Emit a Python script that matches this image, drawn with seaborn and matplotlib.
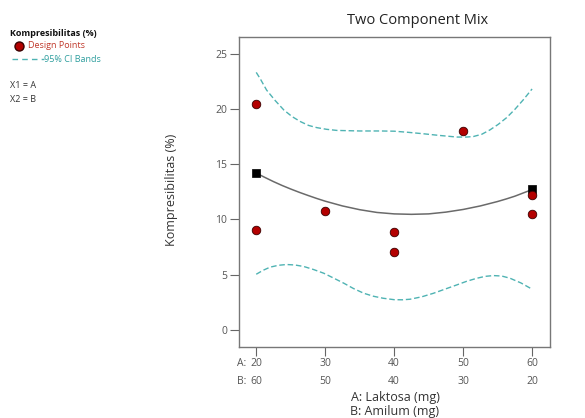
import matplotlib
matplotlib.use("Agg")
import matplotlib.pyplot as plt
import matplotlib.transforms as mtransforms
from matplotlib.lines import Line2D
import seaborn as sns
import pandas as pd

# ---- data ----
design_A = [20, 20, 30, 40, 40, 50, 60, 60]
design_y = [20.45, 9.06, 10.72, 8.88, 7.04, 18.02, 12.23, 10.5]

vertex_A = [20, 60]
vertex_y = [14.19, 12.74]

fit_A = [20, 21.25, 22.5, 23.75, 25, 26.25, 27.5, 28.75, 30, 32.5, 35, 37.5, 40, 42.5, 45,
         47.5, 50, 52.5, 55, 56.25, 57.5, 58.75, 60]
fit_y = [14.19, 13.8, 13.42, 13.07, 12.75, 12.45, 12.17, 11.9, 11.65, 11.22, 10.88, 10.63,
         10.5, 10.46, 10.5, 10.66, 10.9, 11.22, 11.62, 11.85, 12.1, 12.4, 12.7]

upper_A = [20, 20.6, 21.5, 22.75, 24, 25.2, 26.4, 27.6, 28.8, 30.2, 31.7, 35, 38, 40, 42,
           44.2, 46.5, 49.1, 50.5, 51.5, 52.7, 53.9, 55.1, 56.3, 57.5, 58.7, 60]
upper_y = [23.3, 22.7, 21.7, 20.75, 19.9, 19.3, 18.85, 18.5, 18.3, 18.15, 18.05, 18.0, 18.0,
           17.98, 17.88, 17.75, 17.6, 17.45, 17.45, 17.5, 17.7, 18.1, 18.6, 19.2, 19.95,
           20.8, 21.8]

lower_A = [20, 21, 22, 23.2, 24.4, 25.6, 26.9, 28.3, 29.8, 31.2, 32.7, 34.1, 35.6, 37, 38.4,
           40, 41.2, 42.3, 44, 45.7, 47.4, 49.1, 50.5, 52, 53.2, 54.4, 55.6, 56.8, 58.4, 60]
lower_y = [5.04, 5.4, 5.68, 5.85, 5.92, 5.88, 5.74, 5.47, 5.13, 4.7, 4.23, 3.75, 3.32, 3.05,
           2.87, 2.74, 2.73, 2.78, 3.0, 3.32, 3.7, 4.08, 4.4, 4.68, 4.85, 4.92, 4.88, 4.68,
           4.25, 3.69]

tick_A = [20, 30, 40, 50, 60]
tick_B = [60, 50, 40, 30, 20]
y_ticks = [0, 5, 10, 15, 20, 25]

# ---- style ----
sns.set_style("white")
plt.rcParams["font.family"] = ["Open Sans", "DejaVu Sans"]

fig = plt.figure(figsize=(5.85, 4.18), dpi=100)
ax = fig.add_axes([239 / 585, 1 - 347 / 418, (550 - 239) / 585, (347 - 37) / 418])

teal = "#4fb3b3"
dred = "#b30000"
gray = "#555555"

upper_df = pd.DataFrame({"A": upper_A, "y": upper_y})
lower_df = pd.DataFrame({"A": lower_A, "y": lower_y})
fit_df = pd.DataFrame({"A": fit_A, "y": fit_y})

sns.lineplot(data=upper_df, x="A", y="y", ax=ax, color=teal, lw=1.0,
             linestyle=(0, (4, 2)), zorder=2, sort=True)
sns.lineplot(data=lower_df, x="A", y="y", ax=ax, color=teal, lw=1.0,
             linestyle=(0, (4, 2)), zorder=2, sort=True)
sns.lineplot(data=fit_df, x="A", y="y", ax=ax, color="#6a6a6a", lw=1.1, zorder=2, sort=True)

sns.scatterplot(x=vertex_A, y=vertex_y, ax=ax, marker="s", color="black", s=40,
                edgecolor="black", linewidth=0.5, zorder=3)
sns.scatterplot(x=design_A, y=design_y, ax=ax, marker="o", color=dred, s=38,
                edgecolor="#3a0000", linewidth=0.6, zorder=4)

ax.set_xlim(17.5, 62.6)
ax.set_ylim(-1.54, 26.5)
ax.set_yticks(y_ticks)
ax.set_yticklabels([str(v) for v in y_ticks])
ax.set_xticks(tick_A)
ax.set_xticklabels([])
ax.set_xlabel("")
ax.set_ylabel("")

for sp in ax.spines.values():
    sp.set_color("#777777")
    sp.set_linewidth(1.0)
ax.tick_params(axis="both", direction="out", length=6.5, width=0.8, color="#666666",
               labelsize=7.5, labelcolor=gray, left=True, bottom=True)
ax.tick_params(axis="y", pad=2)

# two-row x tick labels
trans = mtransforms.blended_transform_factory(ax.transData, fig.transFigure)
for a, b in zip(tick_A, tick_B):
    ax.text(a, 1 - 364 / 418, str(a), transform=trans, ha="center", va="center",
            fontsize=7.5, color=gray)
    ax.text(a, 1 - 381 / 418, str(b), transform=trans, ha="center", va="center",
            fontsize=7.5, color=gray)
fig.text(246 / 585, 1 - 364 / 418, "A:", ha="right", va="center", fontsize=7.5, color=gray)
fig.text(246 / 585, 1 - 381 / 418, "B:", ha="right", va="center", fontsize=7.5, color=gray)

fig.text(395 / 585, 1 - 398 / 418, "A: Laktosa (mg)", ha="center", va="center",
         fontsize=9, color="#333333")
fig.text(395 / 585, 1 - 412 / 418, "B: Amilum (mg)", ha="center", va="center",
         fontsize=9, color="#333333")

fig.text(172 / 585, 1 - 190 / 418, "Kompresibilitas (%)", rotation=90, ha="center",
         va="center", fontsize=9, color="#333333")

fig.text(418 / 585, 1 - 20 / 418, "Two Component Mix", ha="center", va="center",
         fontsize=10.5, color="#222222")

# legend block on the left
fig.text(10 / 585, 1 - 33 / 418, "Kompresibilitas (%)", ha="left", va="center",
         fontsize=6.5, fontweight="bold", color="#111111")
fig.add_artist(Line2D([19 / 585], [1 - 46 / 418], marker="o", markersize=6.5,
                      markerfacecolor=dred, markeredgecolor="#3a0000", linestyle="none",
                      transform=fig.transFigure))
fig.text(28 / 585, 1 - 46 / 418, "Design Points", ha="left", va="center", fontsize=6.5,
         color="#c0392b")
fig.add_artist(Line2D([12 / 585, 44 / 585], [1 - 59 / 418, 1 - 59 / 418], color=teal,
                      lw=1.0, linestyle=(0, (4, 3)), transform=fig.transFigure))
fig.text(44 / 585, 1 - 59 / 418, "95% CI Bands", ha="left", va="center", fontsize=6.5,
         color="#2e9e9e")
fig.text(10 / 585, 1 - 86 / 418, "X1 = A", ha="left", va="center", fontsize=6.5,
         color="#333333")
fig.text(10 / 585, 1 - 100 / 418, "X2 = B", ha="left", va="center", fontsize=6.5,
         color="#333333")

fig.savefig("out.png", dpi=100)
